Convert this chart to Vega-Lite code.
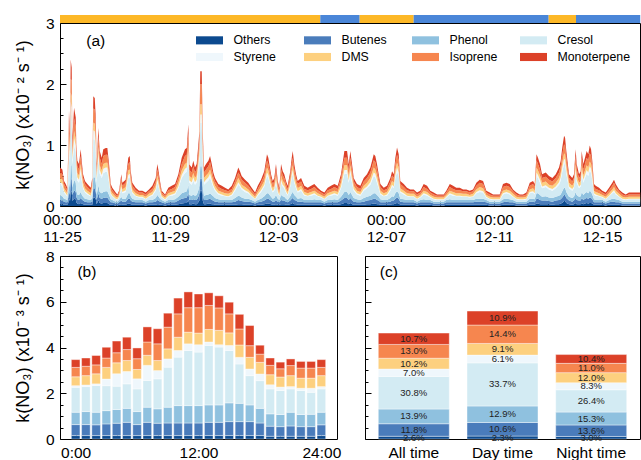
{
"$schema":"https://vega.github.io/schema/vega-lite/v6.json",
"padding":{"left":13,"top":14,"right":0,"bottom":0},
"spacing":3,
"config":{
 "font":"Liberation Sans",
 "view":{"stroke":"black","strokeWidth":1},
 "axis":{"domain":false,"grid":false,"tickColor":"black","tickSize":-6,"tickWidth":1,"labelFontSize":15.5,"labelColor":"black","titleFontSize":18,"titleFontWeight":"normal","titleColor":"black","labelPadding":12,"titlePadding":13,"labelFont":"Liberation Sans","titleFont":"Liberation Sans"}
},
"datasets":{
 "keys":[{"k":"O","sp":"Others","o":1},{"k":"B","sp":"Butenes","o":2},{"k":"P","sp":"Phenol","o":3},{"k":"C","sp":"Cresol","o":4},{"k":"S","sp":"Styrene","o":5},{"k":"D","sp":"DMS","o":6},{"k":"I","sp":"Isoprene","o":7},{"k":"M","sp":"Monoterpene","o":8}],
 "strip":[{"s":-1.8,"e":229.6,"p":"A"},{"s":229.6,"e":264.6,"p":"B"},{"s":264.6,"e":312.6,"p":"A"},{"s":312.6,"e":432.6,"p":"B"},{"s":432.6,"e":456.9,"p":"A"},{"s":456.9,"e":514,"p":"B"}],
 "ts":[
{"h":-1.8,"O":3,"B":7,"P":7,"C":18,"S":4,"D":7,"I":9,"M":8},
{"h":0.3,"O":3,"B":6,"P":7,"C":17,"S":4,"D":6,"I":9,"M":8},
{"h":1.8,"O":2,"B":5,"P":5,"C":10,"S":2,"D":5,"I":7,"M":5},
{"h":3.3,"O":2,"B":4,"P":5,"C":8,"S":2,"D":4,"I":6,"M":5},
{"h":4.7,"O":2,"B":4,"P":4,"C":6,"S":1,"D":4,"I":5,"M":4},
{"h":5.6,"O":5,"B":9,"P":10,"C":32,"S":7,"D":8,"I":13,"M":12},
{"h":6.2,"O":12,"B":13,"P":16,"C":54,"S":12,"D":12,"I":20,"M":17},
{"h":7.1,"O":8,"B":10,"P":12,"C":40,"S":9,"D":9,"I":16,"M":14},
{"h":7.7,"O":22,"B":20,"P":25,"C":90,"S":14,"D":15,"I":22,"M":32},
{"h":8.6,"O":24,"B":21,"P":22,"C":80,"S":15,"D":18,"I":26,"M":21},
{"h":9.2,"O":8,"B":10,"P":12,"C":38,"S":8,"D":9,"I":14,"M":13},
{"h":10.7,"O":12,"B":14,"P":17,"C":56,"S":12,"D":12,"I":21,"M":17},
{"h":12.2,"O":11,"B":12,"P":15,"C":50,"S":11,"D":11,"I":19,"M":16},
{"h":12.7,"O":6,"B":9,"P":11,"C":34,"S":7,"D":8,"I":14,"M":12},
{"h":13.6,"O":4,"B":7,"P":8,"C":23,"S":5,"D":7,"I":11,"M":9},
{"h":15.1,"O":3,"B":7,"P":8,"C":20,"S":5,"D":7,"I":10,"M":9},
{"h":16.6,"O":5,"B":8,"P":10,"C":31,"S":7,"D":8,"I":13,"M":11},
{"h":17.5,"O":4,"B":7,"P":8,"C":23,"S":5,"D":7,"I":11,"M":9},
{"h":18.7,"O":3,"B":6,"P":6,"C":14,"S":3,"D":6,"I":8,"M":6},
{"h":20.4,"O":2,"B":5,"P":5,"C":10,"S":2,"D":5,"I":7,"M":5},
{"h":22.5,"O":2,"B":4,"P":5,"C":8,"S":2,"D":4,"I":6,"M":5},
{"h":25.5,"O":2,"B":4,"P":4,"C":6,"S":1,"D":4,"I":5,"M":4},
{"h":26.9,"O":2,"B":5,"P":6,"C":12,"S":3,"D":5,"I":7,"M":6},
{"h":27.8,"O":14,"B":15,"P":18,"C":63,"S":14,"D":13,"I":23,"M":20},
{"h":29.1,"O":14,"B":15,"P":18,"C":62,"S":13,"D":13,"I":23,"M":19},
{"h":30.0,"O":11,"B":12,"P":15,"C":50,"S":11,"D":11,"I":19,"M":16},
{"h":30.8,"O":3,"B":7,"P":8,"C":20,"S":5,"D":7,"I":10,"M":9},
{"h":32.3,"O":10,"B":11,"P":13,"C":44,"S":9,"D":10,"I":17,"M":14},
{"h":33.5,"O":5,"B":8,"P":10,"C":30,"S":6,"D":8,"I":12,"M":11},
{"h":35.3,"O":4,"B":8,"P":9,"C":25,"S":5,"D":7,"I":11,"M":10},
{"h":36.7,"O":5,"B":8,"P":10,"C":31,"S":7,"D":8,"I":13,"M":11},
{"h":38.9,"O":5,"B":9,"P":10,"C":32,"S":7,"D":8,"I":13,"M":11},
{"h":40.3,"O":5,"B":9,"P":10,"C":32,"S":7,"D":8,"I":13,"M":11},
{"h":41.8,"O":3,"B":7,"P":8,"C":20,"S":5,"D":7,"I":10,"M":9},
{"h":43.3,"O":2,"B":4,"P":5,"C":8,"S":2,"D":4,"I":6,"M":5},
{"h":44.7,"O":2,"B":4,"P":4,"C":6,"S":1,"D":4,"I":5,"M":4},
{"h":47.7,"O":1,"B":3,"P":3,"C":4,"S":1,"D":3,"I":4,"M":3},
{"h":49.2,"O":1,"B":3,"P":3,"C":3,"S":1,"D":3,"I":3,"M":2},
{"h":50.7,"O":2,"B":4,"P":4,"C":4,"S":1,"D":3,"I":4,"M":3},
{"h":52.7,"O":3,"B":6,"P":6,"C":14,"S":3,"D":6,"I":8,"M":6},
{"h":53.6,"O":2,"B":5,"P":5,"C":9,"S":2,"D":4,"I":6,"M":5},
{"h":56.6,"O":2,"B":5,"P":5,"C":11,"S":3,"D":5,"I":7,"M":5},
{"h":58.9,"O":4,"B":8,"P":9,"C":25,"S":5,"D":7,"I":11,"M":10},
{"h":60.2,"O":4,"B":8,"P":9,"C":26,"S":6,"D":7,"I":12,"M":10},
{"h":61.1,"O":3,"B":6,"P":7,"C":16,"S":3,"D":6,"I":9,"M":7},
{"h":62.5,"O":2,"B":5,"P":5,"C":9,"S":2,"D":4,"I":6,"M":5},
{"h":65.5,"O":2,"B":4,"P":4,"C":6,"S":1,"D":4,"I":5,"M":4},
{"h":68.5,"O":2,"B":4,"P":4,"C":4,"S":1,"D":3,"I":4,"M":3},
{"h":71.4,"O":2,"B":4,"P":4,"C":4,"S":1,"D":3,"I":4,"M":3},
{"h":74.4,"O":1,"B":3,"P":3,"C":4,"S":1,"D":3,"I":4,"M":3},
{"h":77.3,"O":2,"B":4,"P":4,"C":5,"S":1,"D":4,"I":4,"M":3},
{"h":80.3,"O":2,"B":4,"P":4,"C":7,"S":2,"D":4,"I":5,"M":5},
{"h":83.3,"O":2,"B":5,"P":6,"C":12,"S":3,"D":5,"I":7,"M":6},
{"h":84.7,"O":3,"B":7,"P":8,"C":20,"S":5,"D":7,"I":10,"M":9},
{"h":85.6,"O":3,"B":6,"P":7,"C":17,"S":4,"D":6,"I":9,"M":8},
{"h":87.1,"O":2,"B":5,"P":5,"C":10,"S":2,"D":5,"I":7,"M":5},
{"h":88.6,"O":2,"B":4,"P":4,"C":4,"S":1,"D":3,"I":4,"M":3},
{"h":91.6,"O":1,"B":3,"P":3,"C":3,"S":1,"D":3,"I":3,"M":2},
{"h":94.5,"O":2,"B":4,"P":4,"C":6,"S":1,"D":4,"I":5,"M":4},
{"h":97.5,"O":2,"B":4,"P":4,"C":7,"S":2,"D":4,"I":5,"M":5},
{"h":100.5,"O":2,"B":4,"P":5,"C":8,"S":2,"D":4,"I":6,"M":5},
{"h":103.4,"O":3,"B":6,"P":6,"C":14,"S":3,"D":6,"I":8,"M":6},
{"h":106.4,"O":4,"B":8,"P":9,"C":25,"S":5,"D":7,"I":11,"M":10},
{"h":109.3,"O":5,"B":8,"P":10,"C":31,"S":7,"D":8,"I":13,"M":11},
{"h":110.9,"O":5,"B":9,"P":10,"C":32,"S":7,"D":8,"I":13,"M":11},
{"h":112.3,"O":10,"B":11,"P":14,"C":46,"S":10,"D":10,"I":18,"M":15},
{"h":113.2,"O":3,"B":7,"P":8,"C":20,"S":4,"D":7,"I":10,"M":9},
{"h":115.3,"O":3,"B":7,"P":7,"C":18,"S":4,"D":7,"I":9,"M":8},
{"h":116.7,"O":4,"B":7,"P":8,"C":23,"S":5,"D":7,"I":11,"M":9},
{"h":118.2,"O":3,"B":7,"P":7,"C":18,"S":4,"D":7,"I":9,"M":8},
{"h":119.7,"O":3,"B":7,"P":8,"C":20,"S":5,"D":7,"I":10,"M":9},
{"h":121.2,"O":6,"B":9,"P":11,"C":34,"S":7,"D":8,"I":14,"M":12},
{"h":122.1,"O":9,"B":11,"P":13,"C":42,"S":9,"D":9,"I":16,"M":14},
{"h":122.9,"O":25,"B":20,"P":20,"C":72,"S":13,"D":17,"I":33,"M":21},
{"h":124.2,"O":25,"B":20,"P":20,"C":72,"S":13,"D":17,"I":33,"M":21},
{"h":125.1,"O":9,"B":11,"P":13,"C":42,"S":9,"D":9,"I":16,"M":14},
{"h":126.2,"O":3,"B":7,"P":7,"C":18,"S":4,"D":7,"I":9,"M":8},
{"h":128.0,"O":3,"B":7,"P":8,"C":20,"S":5,"D":7,"I":10,"M":9},
{"h":130.1,"O":4,"B":7,"P":8,"C":23,"S":5,"D":7,"I":11,"M":9},
{"h":131.6,"O":4,"B":8,"P":9,"C":26,"S":6,"D":7,"I":12,"M":10},
{"h":133.1,"O":3,"B":7,"P":8,"C":20,"S":5,"D":7,"I":10,"M":9},
{"h":134.5,"O":3,"B":6,"P":7,"C":15,"S":3,"D":6,"I":8,"M":7},
{"h":136.0,"O":2,"B":5,"P":6,"C":12,"S":3,"D":5,"I":7,"M":6},
{"h":137.5,"O":2,"B":5,"P":5,"C":10,"S":2,"D":5,"I":7,"M":5},
{"h":139.0,"O":2,"B":4,"P":5,"C":8,"S":2,"D":4,"I":6,"M":5},
{"h":142.0,"O":2,"B":4,"P":4,"C":7,"S":2,"D":4,"I":5,"M":5},
{"h":144.9,"O":2,"B":4,"P":4,"C":6,"S":1,"D":4,"I":5,"M":4},
{"h":147.8,"O":2,"B":4,"P":4,"C":5,"S":1,"D":4,"I":4,"M":3},
{"h":150.9,"O":2,"B":4,"P":4,"C":7,"S":2,"D":4,"I":5,"M":5},
{"h":153.8,"O":2,"B":5,"P":6,"C":12,"S":3,"D":5,"I":7,"M":6},
{"h":156.7,"O":3,"B":7,"P":7,"C":18,"S":4,"D":7,"I":9,"M":8},
{"h":158.2,"O":3,"B":6,"P":7,"C":16,"S":3,"D":6,"I":9,"M":7},
{"h":159.7,"O":3,"B":5,"P":6,"C":13,"S":3,"D":5,"I":8,"M":6},
{"h":162.7,"O":2,"B":5,"P":5,"C":11,"S":3,"D":5,"I":7,"M":5},
{"h":165.6,"O":2,"B":5,"P":5,"C":9,"S":2,"D":4,"I":6,"M":5},
{"h":168.6,"O":2,"B":4,"P":4,"C":6,"S":1,"D":4,"I":5,"M":4},
{"h":171.6,"O":1,"B":3,"P":3,"C":4,"S":1,"D":3,"I":4,"M":3},
{"h":174.0,"O":2,"B":4,"P":4,"C":7,"S":2,"D":4,"I":5,"M":5},
{"h":176.9,"O":2,"B":5,"P":5,"C":11,"S":3,"D":5,"I":7,"M":5},
{"h":179.8,"O":3,"B":6,"P":7,"C":16,"S":3,"D":6,"I":9,"M":7},
{"h":182.2,"O":4,"B":8,"P":9,"C":28,"S":6,"D":8,"I":12,"M":10},
{"h":183.4,"O":4,"B":8,"P":9,"C":25,"S":5,"D":7,"I":11,"M":10},
{"h":185.8,"O":3,"B":6,"P":6,"C":14,"S":3,"D":6,"I":8,"M":6},
{"h":187.3,"O":2,"B":5,"P":5,"C":10,"S":2,"D":5,"I":7,"M":5},
{"h":188.7,"O":2,"B":5,"P":6,"C":12,"S":3,"D":5,"I":7,"M":6},
{"h":190.2,"O":3,"B":7,"P":8,"C":20,"S":5,"D":7,"I":10,"M":9},
{"h":191.8,"O":2,"B":5,"P":5,"C":10,"S":2,"D":5,"I":7,"M":5},
{"h":193.2,"O":2,"B":4,"P":4,"C":6,"S":1,"D":4,"I":5,"M":4},
{"h":194.7,"O":3,"B":7,"P":8,"C":20,"S":5,"D":7,"I":10,"M":9},
{"h":196.2,"O":3,"B":6,"P":7,"C":16,"S":3,"D":6,"I":9,"M":7},
{"h":197.6,"O":3,"B":6,"P":6,"C":14,"S":3,"D":6,"I":8,"M":6},
{"h":199.1,"O":2,"B":5,"P":5,"C":10,"S":2,"D":5,"I":7,"M":5},
{"h":200.6,"O":2,"B":4,"P":4,"C":7,"S":2,"D":4,"I":5,"M":5},
{"h":202.9,"O":3,"B":6,"P":7,"C":16,"S":3,"D":6,"I":9,"M":7},
{"h":204.2,"O":4,"B":8,"P":9,"C":25,"S":5,"D":7,"I":11,"M":10},
{"h":205.1,"O":5,"B":8,"P":10,"C":30,"S":6,"D":8,"I":12,"M":11},
{"h":206.5,"O":3,"B":7,"P":8,"C":20,"S":4,"D":7,"I":10,"M":9},
{"h":208.0,"O":3,"B":6,"P":6,"C":14,"S":3,"D":6,"I":8,"M":6},
{"h":209.5,"O":2,"B":5,"P":5,"C":10,"S":2,"D":5,"I":7,"M":5},
{"h":212.5,"O":2,"B":5,"P":6,"C":12,"S":3,"D":5,"I":7,"M":6},
{"h":215.4,"O":2,"B":4,"P":4,"C":7,"S":2,"D":4,"I":5,"M":5},
{"h":218.4,"O":2,"B":4,"P":4,"C":6,"S":1,"D":4,"I":5,"M":4},
{"h":221.4,"O":2,"B":4,"P":4,"C":7,"S":2,"D":4,"I":5,"M":5},
{"h":224.3,"O":2,"B":4,"P":5,"C":8,"S":2,"D":4,"I":6,"M":5},
{"h":227.3,"O":2,"B":4,"P":4,"C":6,"S":1,"D":4,"I":5,"M":4},
{"h":230.3,"O":2,"B":4,"P":4,"C":4,"S":1,"D":3,"I":4,"M":3},
{"h":233.2,"O":1,"B":3,"P":3,"C":4,"S":1,"D":3,"I":4,"M":3},
{"h":236.2,"O":2,"B":4,"P":4,"C":6,"S":1,"D":4,"I":5,"M":4},
{"h":239.1,"O":2,"B":4,"P":4,"C":7,"S":2,"D":4,"I":5,"M":5},
{"h":242.1,"O":2,"B":4,"P":5,"C":8,"S":2,"D":4,"I":6,"M":5},
{"h":245.1,"O":2,"B":4,"P":4,"C":7,"S":2,"D":4,"I":5,"M":5},
{"h":248.0,"O":3,"B":6,"P":6,"C":14,"S":3,"D":6,"I":8,"M":6},
{"h":251.0,"O":5,"B":8,"P":10,"C":30,"S":6,"D":8,"I":12,"M":11},
{"h":253.4,"O":5,"B":8,"P":10,"C":30,"S":6,"D":8,"I":12,"M":11},
{"h":254.9,"O":3,"B":7,"P":8,"C":20,"S":4,"D":7,"I":10,"M":9},
{"h":256.3,"O":5,"B":8,"P":10,"C":30,"S":6,"D":8,"I":12,"M":11},
{"h":257.8,"O":3,"B":7,"P":8,"C":20,"S":5,"D":7,"I":10,"M":9},
{"h":259.3,"O":2,"B":5,"P":6,"C":12,"S":3,"D":5,"I":7,"M":6},
{"h":262.2,"O":2,"B":4,"P":5,"C":8,"S":2,"D":4,"I":6,"M":5},
{"h":265.2,"O":2,"B":4,"P":4,"C":7,"S":2,"D":4,"I":5,"M":5},
{"h":268.2,"O":2,"B":5,"P":6,"C":12,"S":3,"D":5,"I":7,"M":6},
{"h":271.1,"O":3,"B":6,"P":6,"C":14,"S":3,"D":6,"I":8,"M":6},
{"h":274.1,"O":3,"B":7,"P":7,"C":18,"S":4,"D":7,"I":9,"M":8},
{"h":277.1,"O":4,"B":8,"P":9,"C":28,"S":6,"D":8,"I":12,"M":10},
{"h":278.5,"O":4,"B":8,"P":9,"C":26,"S":6,"D":7,"I":12,"M":10},
{"h":280.0,"O":3,"B":7,"P":8,"C":20,"S":5,"D":7,"I":10,"M":9},
{"h":281.5,"O":3,"B":6,"P":6,"C":14,"S":3,"D":6,"I":8,"M":6},
{"h":283.0,"O":2,"B":4,"P":5,"C":8,"S":2,"D":4,"I":6,"M":5},
{"h":286.0,"O":2,"B":4,"P":4,"C":6,"S":1,"D":4,"I":5,"M":4},
{"h":288.9,"O":2,"B":4,"P":4,"C":7,"S":2,"D":4,"I":5,"M":5},
{"h":291.9,"O":2,"B":5,"P":6,"C":12,"S":3,"D":5,"I":7,"M":6},
{"h":293.4,"O":3,"B":6,"P":7,"C":16,"S":3,"D":6,"I":9,"M":7},
{"h":294.9,"O":3,"B":6,"P":6,"C":14,"S":3,"D":6,"I":8,"M":6},
{"h":296.3,"O":4,"B":8,"P":9,"C":25,"S":5,"D":7,"I":11,"M":10},
{"h":297.8,"O":5,"B":9,"P":10,"C":32,"S":7,"D":8,"I":13,"M":12},
{"h":299.3,"O":4,"B":8,"P":9,"C":28,"S":6,"D":8,"I":12,"M":10},
{"h":300.7,"O":2,"B":5,"P":5,"C":10,"S":2,"D":5,"I":7,"M":5},
{"h":303.8,"O":2,"B":4,"P":5,"C":8,"S":2,"D":4,"I":6,"M":5},
{"h":306.7,"O":2,"B":4,"P":4,"C":6,"S":1,"D":4,"I":5,"M":4},
{"h":309.6,"O":2,"B":4,"P":4,"C":5,"S":1,"D":4,"I":4,"M":3},
{"h":312.7,"O":2,"B":4,"P":4,"C":5,"S":1,"D":4,"I":4,"M":3},
{"h":315.6,"O":1,"B":3,"P":3,"C":4,"S":1,"D":3,"I":4,"M":3},
{"h":318.5,"O":2,"B":4,"P":4,"C":4,"S":1,"D":3,"I":4,"M":3},
{"h":321.5,"O":2,"B":4,"P":5,"C":8,"S":2,"D":4,"I":6,"M":5},
{"h":324.5,"O":2,"B":4,"P":4,"C":7,"S":2,"D":4,"I":5,"M":5},
{"h":327.4,"O":2,"B":4,"P":4,"C":4,"S":1,"D":3,"I":4,"M":3},
{"h":330.4,"O":1,"B":3,"P":3,"C":4,"S":1,"D":3,"I":4,"M":3},
{"h":333.4,"O":1,"B":3,"P":3,"C":3,"S":1,"D":3,"I":3,"M":2},
{"h":339.3,"O":1,"B":3,"P":3,"C":3,"S":1,"D":3,"I":3,"M":2},
{"h":341.6,"O":2,"B":4,"P":4,"C":4,"S":1,"D":3,"I":4,"M":3},
{"h":344.7,"O":2,"B":4,"P":5,"C":8,"S":2,"D":4,"I":6,"M":5},
{"h":347.6,"O":2,"B":4,"P":4,"C":7,"S":2,"D":4,"I":5,"M":5},
{"h":350.5,"O":2,"B":4,"P":4,"C":6,"S":1,"D":4,"I":5,"M":4},
{"h":353.6,"O":2,"B":4,"P":4,"C":6,"S":1,"D":4,"I":5,"M":4},
{"h":356.5,"O":2,"B":4,"P":4,"C":5,"S":1,"D":4,"I":4,"M":3},
{"h":359.4,"O":2,"B":4,"P":4,"C":5,"S":1,"D":4,"I":4,"M":3},
{"h":362.4,"O":2,"B":4,"P":4,"C":4,"S":1,"D":3,"I":4,"M":3},
{"h":365.4,"O":2,"B":4,"P":4,"C":5,"S":1,"D":4,"I":4,"M":3},
{"h":368.3,"O":2,"B":5,"P":5,"C":9,"S":2,"D":4,"I":6,"M":5},
{"h":371.3,"O":2,"B":5,"P":5,"C":11,"S":3,"D":5,"I":7,"M":5},
{"h":374.3,"O":2,"B":5,"P":5,"C":10,"S":2,"D":5,"I":7,"M":5},
{"h":377.2,"O":2,"B":4,"P":4,"C":4,"S":1,"D":3,"I":4,"M":3},
{"h":380.2,"O":1,"B":3,"P":3,"C":4,"S":1,"D":3,"I":4,"M":3},
{"h":383.2,"O":1,"B":3,"P":3,"C":3,"S":1,"D":3,"I":3,"M":2},
{"h":389.1,"O":1,"B":3,"P":3,"C":3,"S":1,"D":3,"I":3,"M":2},
{"h":392.0,"O":2,"B":4,"P":5,"C":8,"S":2,"D":4,"I":6,"M":5},
{"h":395.0,"O":2,"B":5,"P":5,"C":9,"S":2,"D":4,"I":6,"M":5},
{"h":398.0,"O":2,"B":4,"P":5,"C":8,"S":2,"D":4,"I":6,"M":5},
{"h":400.9,"O":2,"B":4,"P":4,"C":5,"S":1,"D":4,"I":4,"M":3},
{"h":403.9,"O":1,"B":3,"P":3,"C":4,"S":1,"D":3,"I":4,"M":3},
{"h":406.9,"O":1,"B":3,"P":3,"C":3,"S":1,"D":3,"I":3,"M":2},
{"h":409.8,"O":1,"B":3,"P":3,"C":3,"S":1,"D":3,"I":3,"M":2},
{"h":412.8,"O":1,"B":3,"P":3,"C":4,"S":1,"D":3,"I":4,"M":3},
{"h":415.8,"O":2,"B":5,"P":5,"C":9,"S":2,"D":4,"I":6,"M":5},
{"h":418.7,"O":2,"B":5,"P":5,"C":10,"S":2,"D":5,"I":7,"M":5},
{"h":420.2,"O":2,"B":4,"P":5,"C":8,"S":2,"D":4,"I":6,"M":5},
{"h":421.8,"O":4,"B":8,"P":9,"C":28,"S":6,"D":8,"I":12,"M":10},
{"h":423.1,"O":4,"B":8,"P":9,"C":25,"S":5,"D":7,"I":11,"M":10},
{"h":424.9,"O":3,"B":7,"P":8,"C":20,"S":5,"D":7,"I":10,"M":9},
{"h":426.7,"O":3,"B":6,"P":6,"C":14,"S":3,"D":6,"I":8,"M":6},
{"h":430.0,"O":3,"B":6,"P":7,"C":15,"S":3,"D":6,"I":8,"M":7},
{"h":432.9,"O":3,"B":5,"P":6,"C":13,"S":3,"D":5,"I":8,"M":6},
{"h":435.9,"O":2,"B":5,"P":6,"C":12,"S":3,"D":5,"I":7,"M":6},
{"h":438.9,"O":3,"B":6,"P":6,"C":14,"S":3,"D":6,"I":8,"M":6},
{"h":441.8,"O":3,"B":7,"P":7,"C":18,"S":4,"D":7,"I":9,"M":8},
{"h":443.3,"O":4,"B":7,"P":8,"C":23,"S":5,"D":7,"I":11,"M":9},
{"h":444.7,"O":5,"B":9,"P":10,"C":32,"S":7,"D":8,"I":13,"M":12},
{"h":446.3,"O":8,"B":10,"P":12,"C":39,"S":8,"D":9,"I":15,"M":14},
{"h":447.2,"O":8,"B":10,"P":12,"C":38,"S":8,"D":9,"I":14,"M":13},
{"h":448.3,"O":5,"B":8,"P":10,"C":30,"S":6,"D":8,"I":12,"M":11},
{"h":450.7,"O":3,"B":6,"P":6,"C":14,"S":3,"D":6,"I":8,"M":6},
{"h":453.6,"O":2,"B":5,"P":6,"C":12,"S":3,"D":5,"I":7,"M":6},
{"h":455.1,"O":3,"B":6,"P":6,"C":14,"S":3,"D":6,"I":8,"M":6},
{"h":456.6,"O":5,"B":8,"P":10,"C":31,"S":7,"D":8,"I":13,"M":11},
{"h":457.5,"O":3,"B":7,"P":8,"C":20,"S":5,"D":7,"I":10,"M":9},
{"h":459.6,"O":3,"B":6,"P":6,"C":14,"S":3,"D":6,"I":8,"M":6},
{"h":461.1,"O":3,"B":6,"P":7,"C":16,"S":3,"D":6,"I":9,"M":7},
{"h":462.0,"O":5,"B":8,"P":10,"C":30,"S":6,"D":8,"I":12,"M":11},
{"h":463.4,"O":3,"B":7,"P":8,"C":20,"S":5,"D":7,"I":10,"M":9},
{"h":464.9,"O":4,"B":8,"P":9,"C":25,"S":5,"D":7,"I":11,"M":10},
{"h":466.4,"O":5,"B":8,"P":10,"C":30,"S":6,"D":8,"I":12,"M":11},
{"h":467.8,"O":4,"B":8,"P":9,"C":28,"S":6,"D":8,"I":12,"M":10},
{"h":469.1,"O":5,"B":9,"P":11,"C":33,"S":7,"D":8,"I":14,"M":12},
{"h":470.3,"O":5,"B":8,"P":10,"C":31,"S":7,"D":8,"I":13,"M":11},
{"h":471.4,"O":4,"B":7,"P":8,"C":23,"S":5,"D":7,"I":11,"M":9},
{"h":472.9,"O":2,"B":4,"P":5,"C":8,"S":2,"D":4,"I":6,"M":5},
{"h":474.4,"O":2,"B":4,"P":4,"C":7,"S":2,"D":4,"I":5,"M":5},
{"h":477.4,"O":2,"B":4,"P":4,"C":6,"S":1,"D":4,"I":5,"M":4},
{"h":480.3,"O":2,"B":4,"P":4,"C":4,"S":1,"D":3,"I":4,"M":3},
{"h":483.3,"O":1,"B":3,"P":3,"C":4,"S":1,"D":3,"I":4,"M":3},
{"h":486.3,"O":2,"B":4,"P":4,"C":6,"S":1,"D":4,"I":5,"M":4},
{"h":489.2,"O":2,"B":5,"P":5,"C":9,"S":2,"D":4,"I":6,"M":5},
{"h":490.7,"O":2,"B":5,"P":5,"C":11,"S":3,"D":5,"I":7,"M":5},
{"h":492.2,"O":2,"B":4,"P":5,"C":8,"S":2,"D":4,"I":6,"M":5},
{"h":495.1,"O":2,"B":4,"P":4,"C":5,"S":1,"D":4,"I":4,"M":3},
{"h":498.1,"O":1,"B":3,"P":3,"C":4,"S":1,"D":3,"I":4,"M":3},
{"h":501.1,"O":1,"B":3,"P":3,"C":3,"S":1,"D":3,"I":3,"M":2},
{"h":504.0,"O":1,"B":3,"P":3,"C":4,"S":1,"D":3,"I":4,"M":3},
{"h":514,"O":1,"B":3,"P":3,"C":4,"S":1,"D":3,"I":4,"M":3}
 ],
 "diurnal":[
{"hr":0,"O":0.15,"B":0.48,"P":0.54,"C":1.09,"S":0.07,"D":0.39,"I":0.41,"M":0.34},
{"hr":1,"O":0.15,"B":0.48,"P":0.57,"C":1.09,"S":0.07,"D":0.41,"I":0.41,"M":0.36},
{"hr":2,"O":0.15,"B":0.47,"P":0.55,"C":1.17,"S":0.07,"D":0.44,"I":0.39,"M":0.41},
{"hr":3,"O":0.15,"B":0.51,"P":0.58,"C":1.09,"S":0.29,"D":0.51,"I":0.41,"M":0.47},
{"hr":4,"O":0.15,"B":0.54,"P":0.60,"C":1.02,"S":0.54,"D":0.48,"I":0.44,"M":0.51},
{"hr":5,"O":0.15,"B":0.58,"P":0.61,"C":1.07,"S":0.54,"D":0.48,"I":0.48,"M":0.54},
{"hr":6,"O":0.15,"B":0.48,"P":0.57,"C":0.99,"S":0.44,"D":0.41,"I":0.47,"M":0.47},
{"hr":7,"O":0.15,"B":0.58,"P":0.66,"C":1.17,"S":0.66,"D":0.44,"I":0.58,"M":0.66},
{"hr":8,"O":0.15,"B":0.54,"P":0.63,"C":1.31,"S":0.36,"D":0.44,"I":0.73,"M":0.66},
{"hr":9,"O":0.15,"B":0.55,"P":0.69,"C":1.75,"S":0.36,"D":0.44,"I":0.95,"M":0.61},
{"hr":10,"O":0.15,"B":0.55,"P":0.76,"C":2.12,"S":0.29,"D":0.58,"I":1.02,"M":0.69},
{"hr":11,"O":0.15,"B":0.55,"P":0.76,"C":2.41,"S":0.29,"D":0.51,"I":1.07,"M":0.69},
{"hr":12,"O":0.15,"B":0.55,"P":0.76,"C":2.34,"S":0.32,"D":0.51,"I":1.11,"M":0.60},
{"hr":13,"O":0.15,"B":0.58,"P":0.76,"C":2.60,"S":0.15,"D":0.55,"I":1.05,"M":0.55},
{"hr":14,"O":0.15,"B":0.58,"P":0.76,"C":2.53,"S":0.10,"D":0.63,"I":0.98,"M":0.53},
{"hr":15,"O":0.15,"B":0.61,"P":0.82,"C":2.29,"S":0.22,"D":0.55,"I":0.83,"M":0.51},
{"hr":16,"O":0.15,"B":0.61,"P":0.80,"C":1.72,"S":0.29,"D":0.54,"I":0.70,"M":0.64},
{"hr":17,"O":0.15,"B":0.61,"P":0.73,"C":1.28,"S":0.29,"D":0.51,"I":0.51,"M":0.88},
{"hr":18,"O":0.15,"B":0.55,"P":0.64,"C":1.21,"S":0.29,"D":0.51,"I":0.36,"M":0.39},
{"hr":19,"O":0.12,"B":0.44,"P":0.54,"C":1.09,"S":0.18,"D":0.44,"I":0.41,"M":0.32},
{"hr":20,"O":0.12,"B":0.42,"P":0.53,"C":1.05,"S":0.15,"D":0.44,"I":0.36,"M":0.29},
{"hr":21,"O":0.12,"B":0.45,"P":0.60,"C":1.02,"S":0.10,"D":0.48,"I":0.44,"M":0.29},
{"hr":22,"O":0.12,"B":0.42,"P":0.53,"C":1.05,"S":0.10,"D":0.44,"I":0.44,"M":0.29},
{"hr":23,"O":0.12,"B":0.42,"P":0.54,"C":0.96,"S":0.18,"D":0.44,"I":0.44,"M":0.29},
{"hr":24,"O":0.15,"B":0.47,"P":0.55,"C":1.02,"S":0.10,"D":0.48,"I":0.36,"M":0.34}
 ],
 "period":[
{"cat":"All time","k":"O","val":0.120,"pct":"2.6%"},
{"cat":"All time","k":"B","val":0.546,"pct":"11.8%"},
{"cat":"All time","k":"P","val":0.644,"pct":"13.9%"},
{"cat":"All time","k":"C","val":1.426,"pct":"30.8%"},
{"cat":"All time","k":"S","val":0.324,"pct":"7.0%"},
{"cat":"All time","k":"D","val":0.472,"pct":"10.2%"},
{"cat":"All time","k":"I","val":0.602,"pct":"13.0%"},
{"cat":"All time","k":"M","val":0.495,"pct":"10.7%"},
{"cat":"Day time","k":"O","val":0.129,"pct":"2.3%"},
{"cat":"Day time","k":"B","val":0.593,"pct":"10.6%"},
{"cat":"Day time","k":"P","val":0.721,"pct":"12.9%"},
{"cat":"Day time","k":"C","val":1.884,"pct":"33.7%"},
{"cat":"Day time","k":"S","val":0.341,"pct":"6.1%"},
{"cat":"Day time","k":"D","val":0.509,"pct":"9.1%"},
{"cat":"Day time","k":"I","val":0.805,"pct":"14.4%"},
{"cat":"Day time","k":"M","val":0.609,"pct":"10.9%"},
{"cat":"Night time","k":"O","val":0.111,"pct":"3.0%"},
{"cat":"Night time","k":"B","val":0.502,"pct":"13.6%"},
{"cat":"Night time","k":"P","val":0.565,"pct":"15.3%"},
{"cat":"Night time","k":"C","val":0.974,"pct":"26.4%"},
{"cat":"Night time","k":"S","val":0.306,"pct":"8.3%"},
{"cat":"Night time","k":"D","val":0.443,"pct":"12.0%"},
{"cat":"Night time","k":"I","val":0.406,"pct":"11.0%"},
{"cat":"Night time","k":"M","val":0.384,"pct":"10.4%"}
 ]
},
"vconcat":[
   {"width":580,"height":183,
    "resolve":{"axis":{"y":"independent"}},
    "layer":[
     {"data":{"name":"strip"},
      "mark":{"type":"rect","clip":false},
      "encoding":{"x":{"field":"s","type":"quantitative"},"x2":{"field":"e"},"y":{"datum":300,"axis":null},"y2":{"datum":313},
        "color":{"condition":{"test":"datum.p==='A'","value":"#fdb827"},"value":"#4a86d8"}}},
     {"data":{"name":"ts"},
      "transform":[{"fold":["O","B","P","C","S","D","I","M"],"as":["k","val"]},{"lookup":"k","from":{"data":{"name":"keys"},"key":"k","fields":["sp","o"]}}],
      "mark":{"type":"area","interpolate":"linear"},
      "encoding":{
       "x":{"field":"h","type":"quantitative","scale":{"domain":[-1.8,513.8],"nice":false},
            "axis":{"title":null,"values":[0,24,48,72,96,120,144,168,192,216,240,264,288,312,336,360,384,408,432,456,480,504],"labelLineHeight":17,
                    "labelExpr":"datum.value % 96 === 0 ? [utcFormat(utc(2022,10,25) + datum.value*3600000, '%H:%M'), utcFormat(utc(2022,10,25) + datum.value*3600000, '%m-%d')] : ''"}},
       "y":{"field":"val","type":"quantitative","stack":"zero","scale":{"domain":[0,300],"nice":false},
            "axis":{"orient":"left","values":[0,100,200,300],"labelExpr":"datum.value/100","title":"k(NO₃) (x10⁻ ² s⁻ ¹)"}},
       "color":{"field":"sp","type":"nominal","scale":{"domain":["Others","Butenes","Phenol","Cresol","Styrene","DMS","Isoprene","Monoterpene"],"range":["#0c4a8f","#4a7cbb","#8fc1df","#d3ebf3","#eff7fc","#fdd07f","#f6864f","#dc4128"]},
            "legend":{"title":null,"orient":"none","legendX":140.5,"legendY":8,"direction":"horizontal","columns":4,"gridAlign":"all","symbolType":"M-1.5,-0.45H1.5V0.45H-1.5Z","symbolSize":324,"symbolStrokeWidth":0,"symbolOpacity":1,"labelFontSize":12.3,"labelOffset":15,"columnPadding":-3,"rowPadding":1,"padding":0,"labelColor":"black","labelFont":"Liberation Sans"}},
       "order":{"field":"o","type":"quantitative"}
      }},
     {"data":{"values":[{}]},"mark":{"type":"point","opacity":0},
      "encoding":{"y":{"datum":0,"type":"quantitative","axis":{"orient":"left","values":[25,50,75,125,150,175,225,250,275],"labels":false,"title":null,"tickSize":-3}}}},
     {"data":{"values":[{}]},"mark":{"type":"text","fontSize":15.5,"font":"Liberation Sans"},"encoding":{"x":{"datum":30},"y":{"datum":270,"axis":null},"text":{"value":"(a)"}}}
    ]},
 {"hconcat":[
   {"width":277,"height":183,
    "resolve":{"axis":{"y":"independent"}},
    "layer":[
     {"data":{"name":"diurnal"},
      "transform":[{"fold":["O","B","P","C","S","D","I","M"],"as":["k","val"]},{"lookup":"k","from":{"data":{"name":"keys"},"key":"k","fields":["sp","o"]}}],
      "mark":{"type":"bar","size":8.6,"stroke":"white","strokeWidth":0.4},
      "encoding":{
       "x":{"field":"hr","type":"quantitative","scale":{"domain":[-1.04,25.04],"nice":false},
            "axis":{"title":null,"values":[0,2,4,6,8,10,12,14,16,18,20,22,24],"labelExpr":"datum.value % 6 === 0 ? datum.value + ':00' : ''"}},
       "y":{"field":"val","type":"quantitative","stack":"zero","scale":{"domain":[0,8],"nice":false},
            "axis":{"orient":"left","values":[0,2,4,6,8],"title":"k(NO₃) (x10⁻ ³ s⁻ ¹)"}},
       "color":{"field":"sp","type":"nominal","scale":{"domain":["Others","Butenes","Phenol","Cresol","Styrene","DMS","Isoprene","Monoterpene"],"range":["#0c4a8f","#4a7cbb","#8fc1df","#d3ebf3","#eff7fc","#fdd07f","#f6864f","#dc4128"]},"legend":null},
       "order":{"field":"o","type":"quantitative"}
      }},
     {"data":{"values":[{}]},"mark":{"type":"point","opacity":0},
      "encoding":{"y":{"datum":0,"type":"quantitative","axis":{"orient":"left","values":[0.5,1,1.5,2.5,3,3.5,4.5,5,5.5,6.5,7,7.5],"labels":false,"title":null,"tickSize":-3}}}},
     {"data":{"values":[{}]},"mark":{"type":"text","fontSize":15.5,"font":"Liberation Sans"},"encoding":{"x":{"datum":1.1},"y":{"datum":7.3,"axis":null},"text":{"value":"(b)"}}}
    ]},
   {"width":275,"height":183,
    "resolve":{"axis":{"y":"independent"}},
    "layer":[
     {"data":{"name":"period"},
      "transform":[{"lookup":"k","from":{"data":{"name":"keys"},"key":"k","fields":["sp","o"]}}],
      "mark":{"type":"bar","stroke":"white","strokeWidth":0.4},
      "encoding":{
       "x":{"field":"cat","type":"nominal","sort":null,"scale":{"paddingInner":0.2,"paddingOuter":0.15},
            "axis":{"title":null,"ticks":false,"labelAngle":0,"labelPadding":6}},
       "y":{"field":"val","type":"quantitative","stack":"zero","scale":{"domain":[0,8],"nice":false},
            "axis":{"orient":"left","values":[0,2,4,6,8],"labels":false,"title":null}},
       "color":{"field":"sp","type":"nominal","scale":{"domain":["Others","Butenes","Phenol","Cresol","Styrene","DMS","Isoprene","Monoterpene"],"range":["#0c4a8f","#4a7cbb","#8fc1df","#d3ebf3","#eff7fc","#fdd07f","#f6864f","#dc4128"]},"legend":null},
       "order":{"field":"o","type":"quantitative"}
      }},
     {"data":{"values":[{}]},"mark":{"type":"point","opacity":0},
      "encoding":{"y":{"datum":0,"type":"quantitative","axis":{"orient":"left","values":[0.5,1,1.5,2.5,3,3.5,4.5,5,5.5,6.5,7,7.5],"labels":false,"title":null,"tickSize":-3}}}},
     {"data":{"name":"period"},
      "transform":[{"lookup":"k","from":{"data":{"name":"keys"},"key":"k","fields":["sp","o"]}}],
      "mark":{"type":"text","fontSize":9.5,"color":"#222222","font":"Liberation Sans"},
      "encoding":{
       "x":{"field":"cat","type":"nominal","sort":null},
       "y":{"field":"val","type":"quantitative","stack":"zero","bandPosition":0.5,"axis":null},
       "detail":{"field":"sp"},
       "order":{"field":"o","type":"quantitative"},
       "text":{"field":"pct"}
      }},
     {"data":{"values":[{}]},"mark":{"type":"text","fontSize":15.5,"align":"left","dx":-34,"font":"Liberation Sans"},"encoding":{"x":{"datum":"All time"},"y":{"datum":7.3,"axis":null},"text":{"value":"(c)"}}}
    ]}
  ],"spacing":22}
]
}
